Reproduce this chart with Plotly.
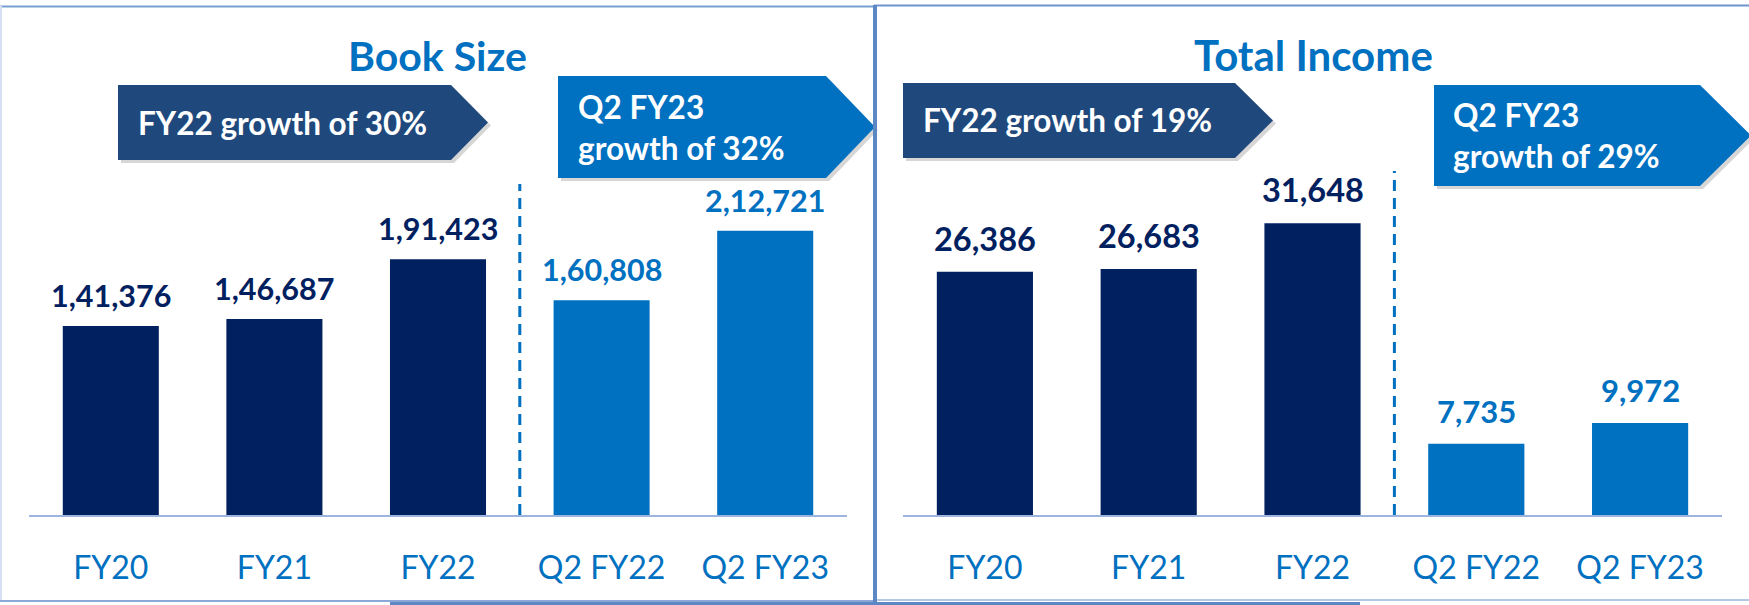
import plotly.graph_objects as go

W, H = 1749, 605

categories = ["FY20", "FY21", "FY22", "Q2 FY22", "Q2 FY23"]
book_size = [141376, 146687, 191423, 160808, 212721]
total_income = [26386, 26683, 31648, 7735, 9972]
period_type = ["annual", "annual", "annual", "quarter", "quarter"]

panel_titles = ["Book Size", "Total Income"]
annual_growth = ["FY22 growth of 30%", "FY22 growth of 19%"]
quarter_growth = ["Q2 FY23<br>growth of 32%", "Q2 FY23<br>growth of 29%"]

DARK = "#002060"
LIGHT = "#0070C0"
ARROW_DARK = "#1F497D"
FONT = "Lato"

bar_colors = [DARK if p == "annual" else LIGHT for p in period_type]


def indian(n):
    s = str(n)
    if len(s) <= 3:
        return s
    last3, rest = s[-3:], s[:-3]
    groups = []
    while len(rest) > 2:
        groups.insert(0, rest[-2:])
        rest = rest[:-2]
    if rest:
        groups.insert(0, rest)
    return ",".join(groups + [last3])


def X(px):
    return px / W


def Y(py):
    return 1 - py / H


fig = go.Figure()
fig.add_trace(go.Bar(x=categories, y=book_size, marker=dict(color=bar_colors, line=dict(width=0)),
                     xaxis="x", yaxis="y", hoverinfo="x+y"))
fig.add_trace(go.Bar(x=categories, y=total_income, marker=dict(color=bar_colors, line=dict(width=0)),
                     xaxis="x2", yaxis="y2", hoverinfo="x+y"))

ydom = [Y(515), Y(170)]
axis_common = dict(showgrid=False, zeroline=False, showline=True, linecolor="#9DB5DE", linewidth=2,
                   ticks="", tickfont=dict(family=FONT, size=32, color=LIGHT), ticklabelstandoff=24,
                   fixedrange=True)
fig.update_layout(
    width=W, height=H, margin=dict(l=0, r=0, t=0, b=0),
    paper_bgcolor="white", plot_bgcolor="white", showlegend=False, bargap=0.413,
    xaxis=dict(domain=[X(29), X(847)], anchor="y", **axis_common),
    xaxis2=dict(domain=[X(903), X(1722)], anchor="y2", **axis_common),
    yaxis=dict(domain=ydom, range=[0, 258234], visible=False, anchor="x", fixedrange=True),
    yaxis2=dict(domain=ydom, range=[0, 37419], visible=False, anchor="x2", fixedrange=True),
)

annotations = []
# value labels
for cat, v, p in zip(categories, book_size, period_type):
    annotations.append(dict(x=cat, y=v, xref="x", yref="y", text="<b>%s</b>" % indian(v), showarrow=False,
                            yanchor="bottom", yshift=11,
                            font=dict(family=FONT, size=30.5, color=DARK if p == "annual" else LIGHT)))
for cat, v, p in zip(categories, total_income, period_type):
    sz = 32.5 if p == "annual" else 31
    annotations.append(dict(x=cat, y=v, xref="x2", yref="y2", text="<b>%s</b>" % indian(v), showarrow=False,
                            yanchor="bottom", yshift=12,
                            font=dict(family=FONT, size=sz, color=DARK if p == "annual" else LIGHT)))

# titles
for t, cx, sz in zip(panel_titles, [437, 1313], [41, 42]):
    annotations.append(dict(x=X(cx), y=Y(55), xref="paper", yref="paper", text="<b>%s</b>" % t,
                            showarrow=False, xanchor="center", yanchor="middle",
                            font=dict(family=FONT, size=sz, color=LIGHT)))

shapes = []
# arrows: left, body right, tip, top, bottom
arrows = [
    (118, 451, 488, 85, 160, ARROW_DARK, annual_growth[0], 136),
    (558, 826, 875, 76, 178, LIGHT, quarter_growth[0], 576),
    (903, 1235, 1273, 83, 158, ARROW_DARK, annual_growth[1], 921),
    (1434, 1700, 1751, 85, 186, LIGHT, quarter_growth[1], 1451),
]


def arrow_path(l, br, tip, top, bot, dx=0, dy=0):
    mid = (top + bot) / 2
    pts = [(l, top), (br, top), (tip, mid), (br, bot), (l, bot)]
    return "M" + " L".join("%.5f,%.5f" % (X(a + dx), Y(b + dy)) for a, b in pts) + " Z"


for l, br, tip, top, bot, col, txt, tx in arrows:
    shapes.append(dict(type="path", xref="paper", yref="paper", path=arrow_path(l, br, tip, top, bot, 3, 3),
                       fillcolor="rgba(0,0,0,0.16)", line=dict(width=0), layer="below"))
    shapes.append(dict(type="path", xref="paper", yref="paper", path=arrow_path(l, br, tip, top, bot),
                       fillcolor=col, line=dict(width=0), layer="below"))
    annotations.append(dict(x=X(tx), y=Y((top + bot) / 2), xref="paper", yref="paper", text="<b>%s</b>" % txt,
                            showarrow=False, xanchor="left", yanchor="middle", align="left",
                            font=dict(family=FONT, size=31.5, color="white")))

# dashed separators between annual and quarterly bars
shapes.append(dict(type="line", xref="x", yref="paper", x0=2.5, x1=2.5, y0=Y(515), y1=Y(184),
                   line=dict(color=LIGHT, width=3, dash="11px,7px")))
shapes.append(dict(type="line", xref="x2", yref="paper", x0=2.5, x1=2.5, y0=Y(515), y1=Y(171),
                   line=dict(color=LIGHT, width=3, dash="11px,7px")))


# panel borders
def hline(x0, x1, y, col, w):
    shapes.append(dict(type="line", xref="paper", yref="paper", x0=X(x0), x1=X(x1), y0=Y(y), y1=Y(y),
                       line=dict(color=col, width=w)))


def vline(x, y0, y1, col, w):
    shapes.append(dict(type="line", xref="paper", yref="paper", x0=X(x), x1=X(x), y0=Y(y0), y1=Y(y1),
                       line=dict(color=col, width=w)))


hline(0, 874, 6.5, "#7A9FD3", 2)
hline(874, 1749, 5.5, "#6F95CE", 2)
vline(1, 6, 602, "#D6E0F2", 2)
hline(0, 874, 601, "#8BA8D8", 2)
hline(874, 1749, 600, "#B4C7E7", 2)
hline(390, 1360, 603.5, "#5B87C5", 3)
vline(875, 5, 603, "#5B87C5", 4)

fig.update_layout(annotations=annotations, shapes=shapes)
fig.write_html("out.html", config={"displayModeBar": False, "staticPlot": False},
               post_script="document.body.style.margin='0';document.body.style.padding='0';"
                           "document.body.style.overflow='hidden';")
